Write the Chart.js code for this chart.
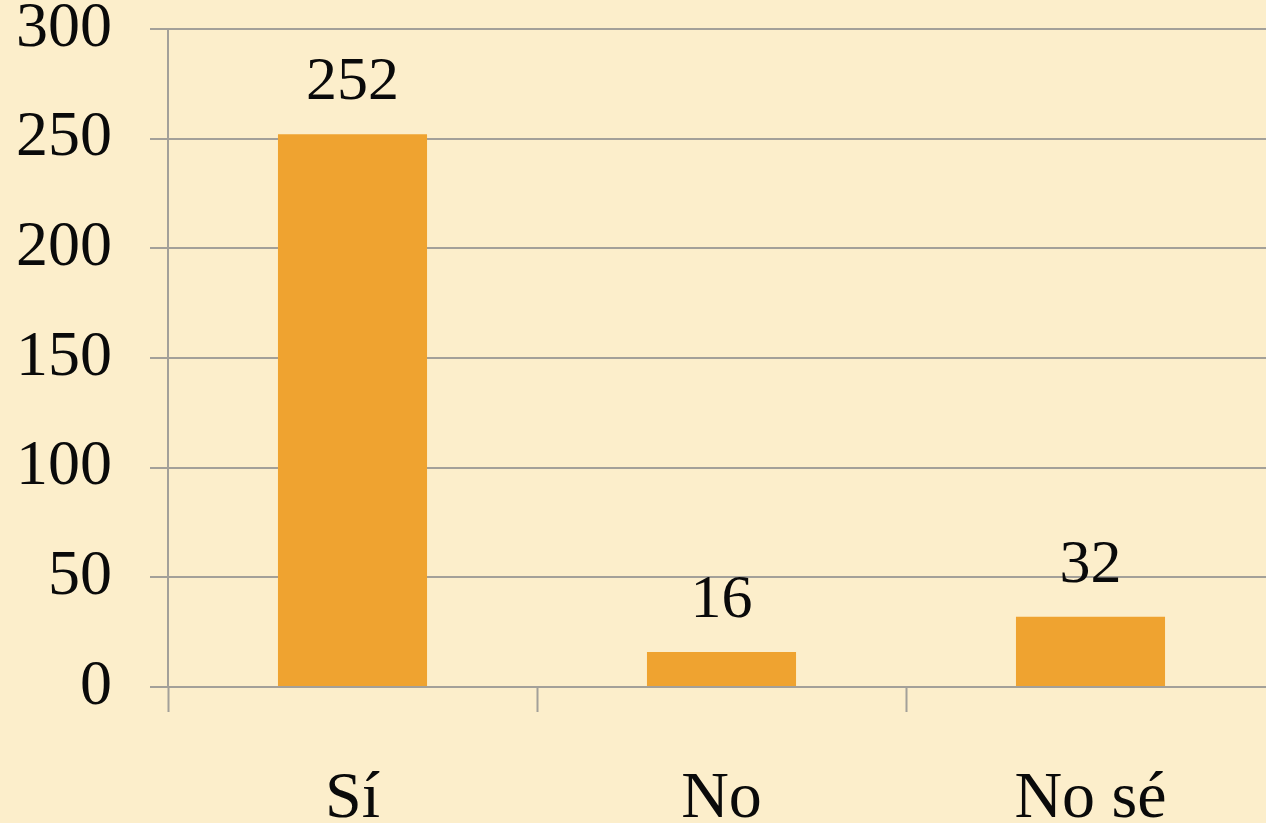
<!DOCTYPE html>
<html>
<head>
    <meta charset="utf-8">
    <title>Sí / No / No sé</title>
    <script src="https://cdn.jsdelivr.net/npm/chart.js"></script>
    <style>
        html, body { margin: 0; padding: 0; overflow: hidden; background-color: #FCEECB; }
    </style>
</head>
<body>
    <div class="chart-container" style="position: relative; width: 1280px; height: 823px;">
        <canvas id="barChart"></canvas>
    </div>

<script>
    // data
    var categories = ["Sí", "No", "No sé"];
    var answers = [252, 16, 32];
    var yTicks = [0, 50, 100, 150, 200, 250, 300];

    var gridGray = "#a3a099";
    var serif = "'Liberation Serif', 'Times New Roman', serif";

    // value labels above each bar
    var valueLabels = {
        id: "valueLabels",
        afterDatasetsDraw: function(chart) {
            var ctx = chart.ctx;
            var meta = chart.getDatasetMeta(0);
            ctx.save();
            ctx.font = "62px " + serif;
            ctx.fillStyle = "#0a0a0a";
            ctx.textAlign = "center";
            ctx.textBaseline = "alphabetic";
            meta.data.forEach(function(bar, i) {
                ctx.fillText(String(answers[i]), bar.x, bar.y - 35);
            });
            ctx.restore();
        }
    };

    var ctx = document.getElementById("barChart").getContext("2d");
    var chart = new Chart(ctx, {
        type: "bar",
        data: {
            labels: categories,
            datasets: [{
                data: answers,
                backgroundColor: "#EFA330",
                borderWidth: 0,
                categoryPercentage: 1,
                barPercentage: 0.404
            }]
        },
        options: {
            responsive: true,
            maintainAspectRatio: false,
            animation: false,
            layout: { padding: { left: 0, right: 5, top: 0, bottom: 0 } },
            plugins: {
                legend: { display: false },
                tooltip: { enabled: false }
            },
            scales: {
                x: {
                    offset: true,
                    grid: {
                        offset: true,
                        drawOnChartArea: false,
                        drawTicks: true,
                        tickLength: 25,
                        tickWidth: 2,
                        tickColor: gridGray
                    },
                    border: { display: true, color: gridGray, width: 2 },
                    ticks: {
                        color: "#0a0a0a",
                        padding: 48,
                        font: { family: serif, size: 66, lineHeight: 1.2 }
                    },
                    afterFit: function(scale) { scale.height = 136; }
                },
                y: {
                    min: 0,
                    max: 300,
                    afterBuildTicks: function(scale) {
                        scale.ticks = yTicks.map(function(v) { return { value: v }; });
                    },
                    grid: {
                        color: gridGray,
                        lineWidth: 2,
                        drawTicks: true,
                        tickLength: 18
                    },
                    border: { display: true, color: gridGray, width: 2 },
                    ticks: {
                        color: "#0a0a0a",
                        padding: 38,
                        font: { family: serif, size: 64 }
                    },
                    afterFit: function(scale) {
                        scale.width = 168;
                        scale.paddingTop = 29;
                        scale.paddingBottom = 0;
                    }
                }
            }
        },
        plugins: [valueLabels]
    });
</script>
</body>
</html>
